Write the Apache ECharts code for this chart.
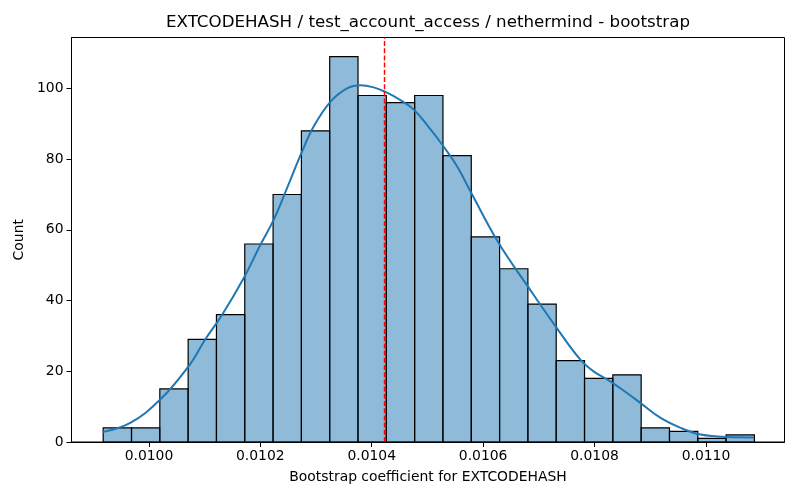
<!DOCTYPE html>
<html>
<head>
<meta charset="utf-8">
<script src="https://cdn.jsdelivr.net/npm/echarts@6/dist/echarts.min.js"></script>
<style>
  html, body, #main { width: 800px; height: 500px; margin: 0; background: #fff; }
</style>
</head>
<body>
<div id="main"></div>
<script>
// histogram bins (uniform width), counts
const binStart = 0.0099179
const binWidth = 0.00005083
const counts = [4, 4, 15, 29, 36, 56, 70, 88, 109, 98, 96, 98, 81, 58, 49, 39, 23, 18, 19, 4, 3, 1, 2]

// kde curve
const kdeX = [0.0099166, 0.0099664, 0.0100203, 0.0100711, 0.0101011, 0.0101312, 0.0101700, 0.0102000,
  0.0102239, 0.0102479, 0.0102718, 0.0102957, 0.0103257, 0.0103557, 0.0103796, 0.0104035, 0.0104245,
  0.0104515, 0.0104754, 0.0104995, 0.0105293, 0.0105534, 0.0105785, 0.0106281, 0.0106802, 0.0107300,
  0.0107749, 0.0107988, 0.0108288, 0.0108588, 0.0108827, 0.0109186, 0.0109545, 0.0109905, 0.0110384, 0.0110862]
const kdeY = [2.8, 5.4, 12, 21.4, 29, 35.9, 46.3, 55.7,
  62.8, 71.8, 81, 89.2, 96.2, 100, 100.9, 100.3, 99,
  96.7, 94, 89.6, 83.5, 77.9, 70.5, 56.2, 44, 32.7,
  23.2, 19.9, 17.1, 13.8, 11, 6.8, 4, 2.1, 1.4, 1.3]

const meanLine = 0.0104226

const xTicks = [0.0100, 0.0102, 0.0104, 0.0106, 0.0108, 0.0110]
const yTicks = [0, 20, 40, 60, 80, 100]

const titleText = 'EXTCODEHASH / test_account_access / nethermind - bootstrap'
const xName = 'Bootstrap coefficient for EXTCODEHASH'
const yName = 'Count'

const font = 'DejaVu Sans'

const binData = counts.map((c, i) => [binStart + i * binWidth, binStart + (i + 1) * binWidth, c])
const kdeData = kdeX.map((x, i) => [x, kdeY[i]])

const chart = echarts.init(document.getElementById('main'), null, { renderer: 'canvas' })

chart.setOption({
  animation: false,
  backgroundColor: '#fff',
  textStyle: { fontFamily: font },
  title: {
    text: titleText,
    left: 428,
    top: 14,
    padding: 0,
    textAlign: 'center',
    textStyle: { fontFamily: font, fontSize: 16.7, fontWeight: 'normal', color: '#000' }
  },
  grid: {
    left: 71.5, right: 15.5, top: 37.5, bottom: 58,
    show: true, borderColor: '#000', borderWidth: 1,
    containLabel: false,
    outerBoundsMode: 'none'
  },
  xAxis: {
    type: 'value',
    min: 0.009861,
    max: 0.011141,
    name: xName,
    nameLocation: 'middle',
    nameGap: 28,
    nameTextStyle: { fontFamily: font, fontSize: 13.9, color: '#000' },
    axisLine: { show: true, onZero: false, lineStyle: { color: '#000', width: 1 } },
    axisTick: { show: true, inside: false, length: 5, customValues: xTicks, lineStyle: { color: '#000' } },
    axisLabel: {
      customValues: xTicks,
      margin: 7,
      fontFamily: font, fontSize: 13.9, color: '#000',
      formatter: v => v.toFixed(4)
    },
    splitLine: { show: false }
  },
  yAxis: {
    type: 'value',
    min: 0,
    max: 114.4,
    name: yName,
    nameLocation: 'middle',
    nameGap: 41,
    nameTextStyle: { fontFamily: font, fontSize: 13.9, color: '#000' },
    axisLine: { show: true, lineStyle: { color: '#000', width: 1 } },
    axisTick: { show: true, inside: false, length: 5, customValues: yTicks, lineStyle: { color: '#000' } },
    axisLabel: {
      customValues: yTicks,
      margin: 8,
      fontFamily: font, fontSize: 13.9, color: '#000'
    },
    splitLine: { show: false }
  },
  series: [
    {
      type: 'custom',
      name: 'hist',
      data: binData,
      encode: { x: [0, 1], y: 2 },
      z: 2,
      renderItem: (params, api) => {
        const top = api.coord([api.value(0), api.value(2)])
        const bottom = api.coord([api.value(1), 0])
        return {
          type: 'rect',
          shape: { x: top[0], y: top[1], width: bottom[0] - top[0], height: bottom[1] - top[1] },
          style: { fill: 'rgba(31,119,180,0.5)', stroke: '#000', lineWidth: 1.2 }
        }
      }
    },
    {
      type: 'line',
      name: 'kde',
      data: kdeData,
      smooth: 0.4,
      showSymbol: false,
      z: 3,
      lineStyle: { color: '#1f77b4', width: 2 },
      markLine: {
        silent: true,
        symbol: 'none',
        precision: 8,
        label: { show: false },
        lineStyle: { color: '#ff0000', type: [5, 2.2], width: 1.4, opacity: 1 },
        emphasis: { disabled: true },
        data: [{ xAxis: meanLine }]
      }
    }
  ]
})
</script>
</body>
</html>
